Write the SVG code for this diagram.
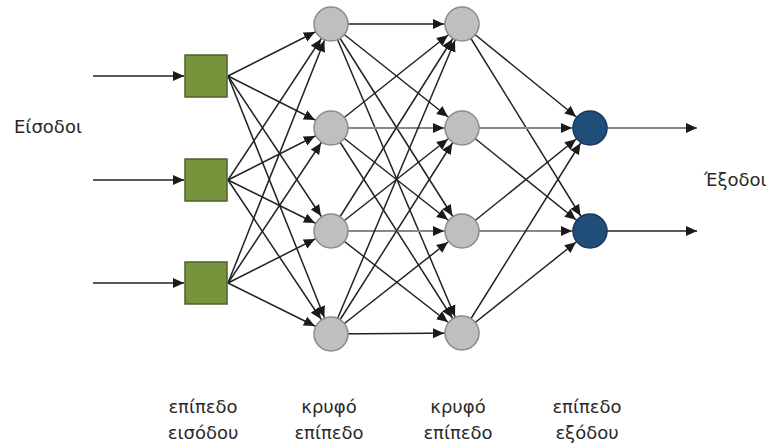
<svg xmlns="http://www.w3.org/2000/svg" width="772" height="446" viewBox="0 0 772 446">
<defs>
<marker id="ah" markerUnits="userSpaceOnUse" markerWidth="40" markerHeight="12" refX="29" refY="5" orient="auto" viewBox="0 0 40 10">
<path d="M0,0 L11,5 L0,10 z" fill="#1a1a1a"/>
</marker>
<marker id="af" markerUnits="userSpaceOnUse" markerWidth="12" markerHeight="12" refX="11" refY="5" orient="auto" viewBox="0 0 12 10">
<path d="M0,0 L11,5 L0,10 z" fill="#1a1a1a"/>
</marker>
<style>
.c line{stroke:#222;stroke-width:1.5;fill:none;marker-end:url(#ah)}
.c line.g{stroke:#888;stroke-width:2}
.c line.f{marker-end:url(#af)}
.in{fill:#77933c;stroke:#4f6228;stroke-width:1.5}
.hd{fill:#bfbfbf;stroke:#8c8c8c;stroke-width:1.5}
.out{fill:#1f4e79;stroke:#17375e;stroke-width:1.5}
text{font-family:"DejaVu Sans","Noto Sans",sans-serif;font-size:18px;fill:#2a2a2a;text-anchor:middle}
</style>
</defs>
<g id="connectors" class="c">
<line class="f" x1="93" y1="76" x2="184" y2="76"/>
<line class="f" x1="93" y1="180" x2="184" y2="180"/>
<line class="f" x1="93" y1="283" x2="184" y2="283"/>
<line x1="228" y1="76" x2="331" y2="24"/>
<line x1="228" y1="76" x2="331" y2="128"/>
<line x1="228" y1="76" x2="331" y2="231"/>
<line x1="228" y1="76" x2="331" y2="334"/>
<line x1="228" y1="180" x2="331" y2="24"/>
<line x1="228" y1="180" x2="331" y2="128"/>
<line x1="228" y1="180" x2="331" y2="231"/>
<line x1="228" y1="180" x2="331" y2="334"/>
<line x1="228" y1="283" x2="331" y2="24"/>
<line x1="228" y1="283" x2="331" y2="128"/>
<line x1="228" y1="283" x2="331" y2="231"/>
<line x1="228" y1="283" x2="331" y2="334"/>
<line x1="331" y1="24" x2="462" y2="24"/>
<line x1="331" y1="24" x2="462" y2="128"/>
<line x1="331" y1="24" x2="462" y2="231"/>
<line x1="331" y1="24" x2="462" y2="333"/>
<line x1="331" y1="128" x2="462" y2="24"/>
<line class="g" x1="331" y1="128" x2="462" y2="128"/>
<line x1="331" y1="128" x2="462" y2="231"/>
<line x1="331" y1="128" x2="462" y2="333"/>
<line x1="331" y1="231" x2="462" y2="24"/>
<line x1="331" y1="231" x2="462" y2="128"/>
<line class="g" x1="331" y1="231" x2="462" y2="231"/>
<line x1="331" y1="231" x2="462" y2="333"/>
<line x1="331" y1="334" x2="462" y2="24"/>
<line x1="331" y1="334" x2="462" y2="128"/>
<line x1="331" y1="334" x2="462" y2="231"/>
<line x1="331" y1="334" x2="462" y2="333"/>
<line x1="462" y1="24" x2="590" y2="128"/>
<line x1="462" y1="24" x2="590" y2="231"/>
<line class="g" x1="462" y1="128" x2="590" y2="128"/>
<line x1="462" y1="128" x2="590" y2="231"/>
<line x1="462" y1="231" x2="590" y2="128"/>
<line class="g" x1="462" y1="231" x2="590" y2="231"/>
<line x1="462" y1="333" x2="590" y2="128"/>
<line x1="462" y1="333" x2="590" y2="231"/>
<line class="f g" x1="607" y1="128" x2="697" y2="128"/>
<line class="f" x1="607" y1="231" x2="697" y2="231"/>
</g>
<g id="in1"><rect class="in" x="185" y="55" width="42" height="42"/></g>
<g id="in2"><rect class="in" x="185" y="159" width="42" height="42"/></g>
<g id="in3"><rect class="in" x="185" y="262" width="42" height="42"/></g>
<g id="h1a"><circle class="hd" cx="331" cy="24" r="17"/></g>
<g id="h1b"><circle class="hd" cx="331" cy="128" r="17"/></g>
<g id="h1c"><circle class="hd" cx="331" cy="231" r="17"/></g>
<g id="h1d"><circle class="hd" cx="331" cy="334" r="17"/></g>
<g id="h2a"><circle class="hd" cx="462" cy="24" r="17"/></g>
<g id="h2b"><circle class="hd" cx="462" cy="128" r="17"/></g>
<g id="h2c"><circle class="hd" cx="462" cy="231" r="17"/></g>
<g id="h2d"><circle class="hd" cx="462" cy="333" r="17"/></g>
<g id="o1"><circle class="out" cx="590" cy="128" r="17"/></g>
<g id="o2"><circle class="out" cx="590" cy="231" r="17"/></g>
<g id="labels">
<text x="48" y="133">Είσοδοι</text>
<text x="704" y="186" style="text-anchor:start">Έξοδοι</text>
<text x="203" y="413">επίπεδο</text>
<text x="203" y="439">εισόδου</text>
<text x="329" y="413">κρυφό</text>
<text x="329" y="439">επίπεδο</text>
<text x="458" y="413">κρυφό</text>
<text x="458" y="439">επίπεδο</text>
<text x="587" y="413">επίπεδο</text>
<text x="587" y="439">εξόδου</text>
</g>
</svg>
